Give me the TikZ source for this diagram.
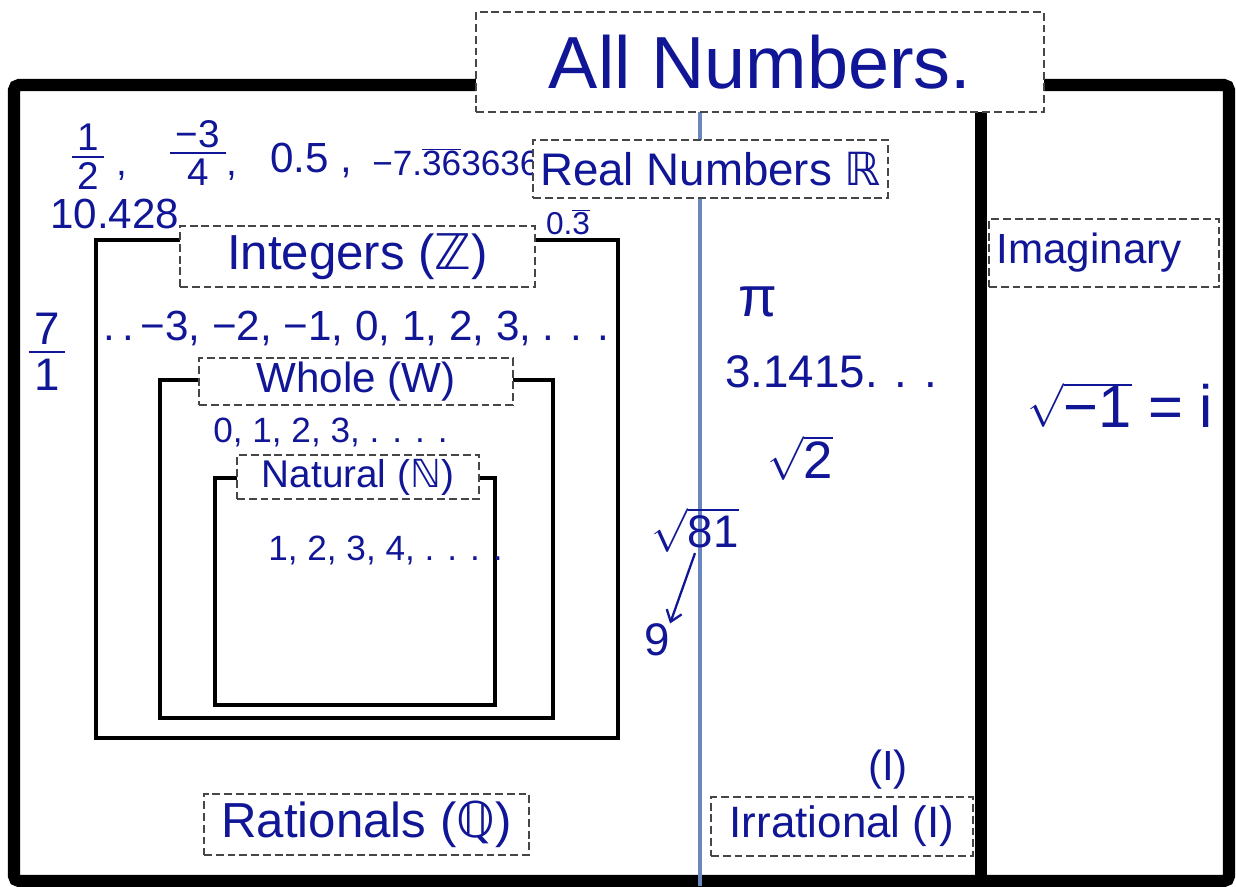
\documentclass[tikz,border=0pt]{standalone}
\usepackage{fontspec}
\setmainfont{Liberation Sans}
\newfontfamily\symfont{DejaVu Sans}
\usetikzlibrary{arrows.meta, positioning}
\definecolor{handblue}{RGB}{16,22,150}
\definecolor{axisblue}{RGB}{105,135,190}
\definecolor{boxgray}{RGB}{70,70,70}
\newcommand{\fs}[1]{\fontsize{#1}{#1}\selectfont}
\tikzset{
    frame/.style={draw, line width=7pt, rounded corners=3pt},
    divider/.style={draw, line width=6.5pt},
    setbox/.style={draw, line width=2.2pt},
    lblbox/.style={
        draw=boxgray,
        fill=white,
        line width=1.1pt,
        dash pattern=on 4.5pt off 2.2pt,
        inner sep=0pt,
        text=handblue
    },
    hand/.style={text=handblue, inner sep=0pt},
    fracbar/.style={draw=handblue, line width=1.3pt, shorten <=-3pt, shorten >=-3pt},
    handarrow/.style={-{Straight Barb[length=6pt, width=9pt]}, draw=handblue, line width=1.3pt},
    every node/.style={font=\fs{22}}
}

\begin{document}
\begin{tikzpicture}[x=0.02cm, y=-0.02cm]
\useasboundingbox (0,0) rectangle (1236,886);

\draw[frame] (14,85) rectangle (1229,881);
\draw[divider] (981,85) -- (981,886);
\draw[axisblue, line width=2pt] (700,100) -- (700,886);

\draw[setbox] (96,240) rectangle (618,738);
\draw[setbox] (160,380) rectangle (553,718);
\draw[setbox] (215,478) rectangle (495,705);

\node[hand, align=center, font=\fs{22}] (half) at (88,157) {1\\2};
\draw[fracbar] (half.west) -- (half.east);
\node[hand] (commaA) at (122,176) {,};
\node[hand, align=center, font=\fs{22}] (threequarter) at (198,153) {−3\\4};
\draw[fracbar] (threequarter.west) -- (threequarter.east);
\node[hand] (commaB) at (232,176) {,};
\node[hand, anchor=west, font=\fs{24}] (half dec) at (270,160) {0.5 ,};
\node[hand, anchor=west, font=\fs{20}] (repdec) at (372,162) {−7.$\overline{\hbox{36}}$3636};
\node[hand, anchor=west, font=\fs{24}] (tenpt) at (50,214) {10.428};
\node[hand, font=\fs{18}] (third) at (568,222) {0.$\overline{\hbox{3}}$};
\node[hand, align=center, font=\fs{26}] (seven) at (47,352) {7\\1};
\draw[fracbar] (seven.west) -- (seven.east);

\node[lblbox, minimum width=11.36cm, minimum height=2cm, font=\fs{42}] (all) at (760,62) {All Numbers.};
\node[lblbox, minimum width=7.1cm, minimum height=1.16cm, font=\fs{26}] (real) at (710.5,169) {Real Numbers {\symfont ℝ}};
\node[lblbox, minimum width=4.6cm, minimum height=1.36cm, text width=4.3cm, align=left, font=\fs{24}] (imag) at (1104,253) {\raisebox{-6pt}{Imaginary}};

\node[lblbox, minimum width=7.1cm, minimum height=1.22cm, font=\fs{28}] (intlbl) at (357.5,256.5) {Integers ({\symfont ℤ})};
\node[lblbox, minimum width=6.28cm, minimum height=0.94cm, font=\fs{24}] (wholelbl) at (356,381.5) {Whole (W)};
\node[lblbox, minimum width=4.84cm, minimum height=0.88cm, font=\fs{22}] (natlbl) at (358,477) {Natural ({\symfont ℕ})};
\node[lblbox, minimum width=6.5cm, minimum height=1.22cm, font=\fs{28}] (ratlbl) at (366.5,824.5) {Rationals ({\symfont ℚ})};
\node[lblbox, minimum width=5.24cm, minimum height=1.18cm, font=\fs{25}] (irrlbl) at (842,826.5) {Irrational (I)};

\node[hand, anchor=west, font=\fs{24}] (intlist) at (103,328) {.\,.\,−3, −2, −1, 0, 1, 2, 3, . . .};
\node[hand, anchor=west, font=\fs{20}] (wholelist) at (213,432) {0, 1, 2, 3, . . . .};
\node[hand, anchor=west, font=\fs{20}] (natlist) at (268,550) {1, 2, 3, 4, . . . .};

\node[hand, font=\fs{32}] (pi) at (758,302) {π};
\node[hand, anchor=west, font=\fs{26}] (piapprox) at (725,372) {3.1415. . .};
\node[hand, font=\fs{30}] (sqrttwo) at (800,458) {$\sqrt{\hbox{2}}$};
\node[hand, font=\fs{26}] (sqrteightyone) at (695,530) {$\sqrt{\hbox{81}}$};
\node[hand, font=\fs{26}] (nine) at (657,640) {9};
\draw[handarrow] (sqrteightyone.south) -- (nine.north east);
\node[hand, font=\fs{24}] (irrmark) at (888,770) {(I)};

\node[hand, font=\fs{34}] (imagunit) at (1120,405) {$\sqrt{\hbox{−1}}$ = i};
\end{tikzpicture}
\end{document}
